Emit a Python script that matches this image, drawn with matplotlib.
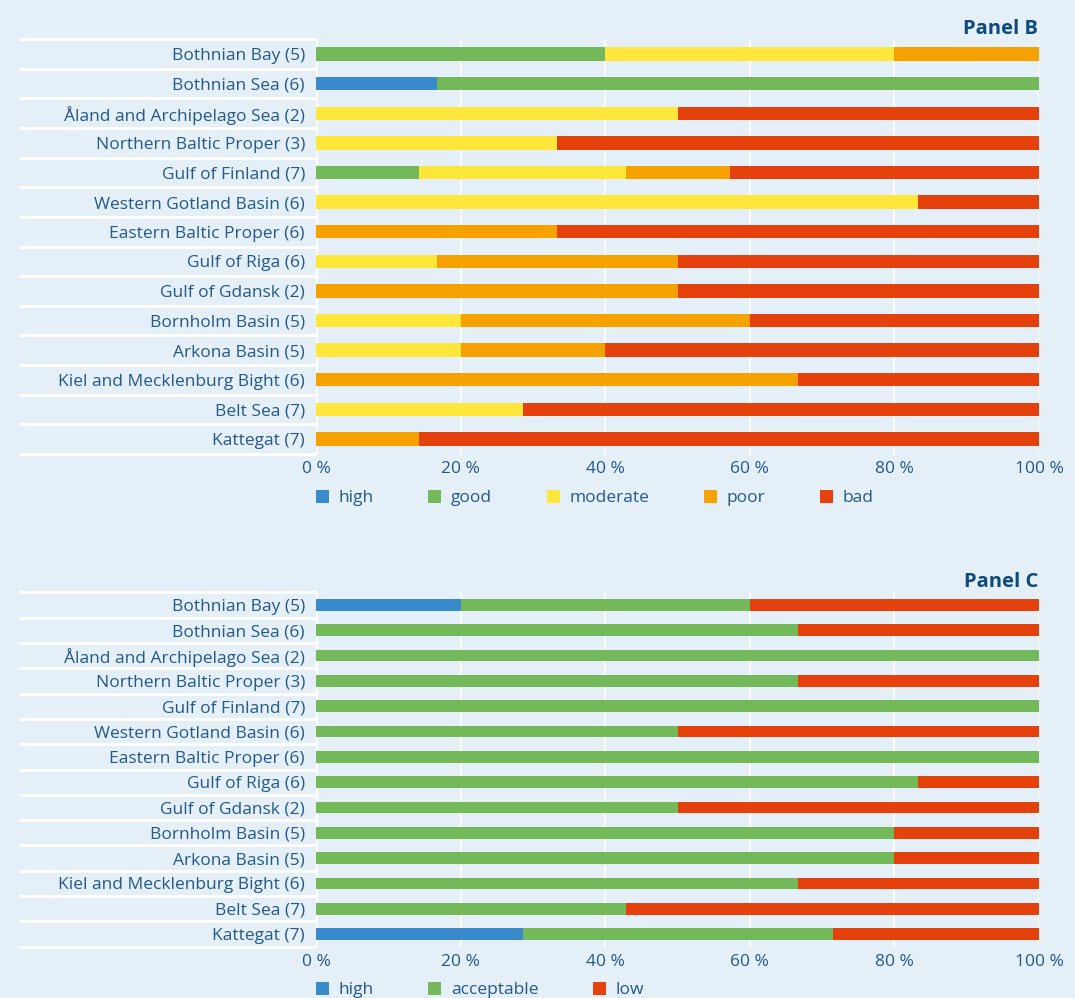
import matplotlib
matplotlib.use("Agg")
import numpy as np
import matplotlib.pyplot as plt
from matplotlib.patches import Patch

plt.rcParams['font.family'] = ['Open Sans', 'DejaVu Sans']

# basins (same order in both panels, top to bottom)
basins = [
    "Bothnian Bay (5)", "Bothnian Sea (6)", "Åland and Archipelago Sea (2)",
    "Northern Baltic Proper (3)", "Gulf of Finland (7)", "Western Gotland Basin (6)",
    "Eastern Baltic Proper (6)", "Gulf of Riga (6)", "Gulf of Gdansk (2)",
    "Bornholm Basin (5)", "Arkona Basin (5)", "Kiel and Mecklenburg Bight (6)",
    "Belt Sea (7)", "Kattegat (7)",
]

# Panel B - share of assessments per status class (%)
b_high     = [0, 16.7, 0, 0, 0, 0, 0, 0, 0, 0, 0, 0, 0, 0]
b_good     = [40, 83.3, 0, 0, 14.3, 0, 0, 0, 0, 0, 0, 0, 0, 0]
b_moderate = [40, 0, 50, 33.3, 28.6, 83.3, 0, 16.7, 0, 20, 20, 0, 28.6, 0]
b_poor     = [20, 0, 0, 0, 14.3, 0, 33.3, 33.3, 50, 40, 20, 66.7, 0, 14.3]
b_bad      = [0, 0, 50, 66.7, 42.9, 16.7, 66.7, 50, 50, 40, 60, 33.3, 71.4, 85.7]

# Panel C
c_high       = [20, 0, 0, 0, 0, 0, 0, 0, 0, 0, 0, 0, 0, 28.6]
c_acceptable = [40, 66.7, 100, 66.7, 100, 50, 100, 83.3, 50, 80, 80, 66.7, 42.9, 42.9]
c_low        = [40, 33.3, 0, 33.3, 0, 50, 0, 16.7, 50, 20, 20, 33.3, 57.1, 28.6]

x_ticks = [0, 20, 40, 60, 80, 100]

BG = "#e5eff8"
TXT = "#22598c"
TITLE = "#0b4a80"
COL = {"high": "#3a8bcb", "good": "#74b959", "acceptable": "#74b959",
       "moderate": "#ffe63b", "poor": "#f5a100", "bad": "#e5410d", "low": "#e5410d"}

fig = plt.figure(figsize=(10.75, 9.98), dpi=100, facecolor=BG)

W, H = 1075, 998
left = 316 / W
width = (1039 - 316) / W


def panel(rect, series, title, legend_y, bar_h):
    ax = fig.add_axes(rect)
    ax.set_facecolor(BG)
    y = np.arange(len(basins))
    base = np.zeros(len(basins))
    handles = []
    for name, vals in series:
        vals = np.array(vals, dtype=float)
        ax.barh(y, vals, left=base, height=bar_h, color=COL[name], zorder=3)
        base += vals
        handles.append(Patch(facecolor=COL[name], label=name))
    ax.set_xlim(0, 100)
    ax.set_ylim(len(basins) - 0.5, -0.5)
    ax.set_yticks(y)
    ax.set_yticklabels(basins)
    ax.set_xticks(x_ticks)
    ax.set_xticklabels([f"{t} %" for t in x_ticks])
    ax.tick_params(length=0, colors=TXT, labelsize=12.5)
    ax.tick_params(axis='y', pad=8)
    ax.tick_params(axis='x', pad=5)
    for s in ax.spines.values():
        s.set_visible(False)
    ax.grid(axis='x', color='white', linewidth=1.2, zorder=0)
    ax.set_axisbelow(True)
    # white cell borders behind the category labels
    ax.hlines(np.arange(len(basins) + 1) - 0.5, (19 - 316) / 723, 0,
              transform=ax.get_yaxis_transform(), color='white',
              linewidth=2.2, clip_on=False, zorder=1)
    ax.axvline(0, color='white', linewidth=2.2, zorder=1)
    ax.text(0.9985, 1.0, title, transform=ax.transAxes, ha='right', va='bottom',
            fontsize=14.5, fontweight='bold', color=TITLE)
    leg = ax.legend(handles=handles, ncol=len(handles), loc='center left',
                    bbox_to_anchor=(0, legend_y), frameon=False, borderpad=0,
                    borderaxespad=0, handlelength=0.75, handleheight=0.75,
                    handletextpad=0.55, columnspacing=3.15, fontsize=12.5)
    for t in leg.get_texts():
        t.set_color(TXT)
    return ax


# Panel B
top_b, bot_b = 39.2, 453.8
panel([left, 1 - bot_b / H, width, (bot_b - top_b) / H],
      [("high", b_high), ("good", b_good), ("moderate", b_moderate),
       ("poor", b_poor), ("bad", b_bad)],
      "Panel B", -(498 - bot_b) / (bot_b - top_b), 0.45)

# Panel C
top_c, bot_c = 592.3, 946.7
panel([left, 1 - bot_c / H, width, (bot_c - top_c) / H],
      [("high", c_high), ("acceptable", c_acceptable), ("low", c_low)],
      "Panel C", -(990 - bot_c) / (bot_c - top_c), 0.46)

fig.savefig("out.png", dpi=100, facecolor=BG)
